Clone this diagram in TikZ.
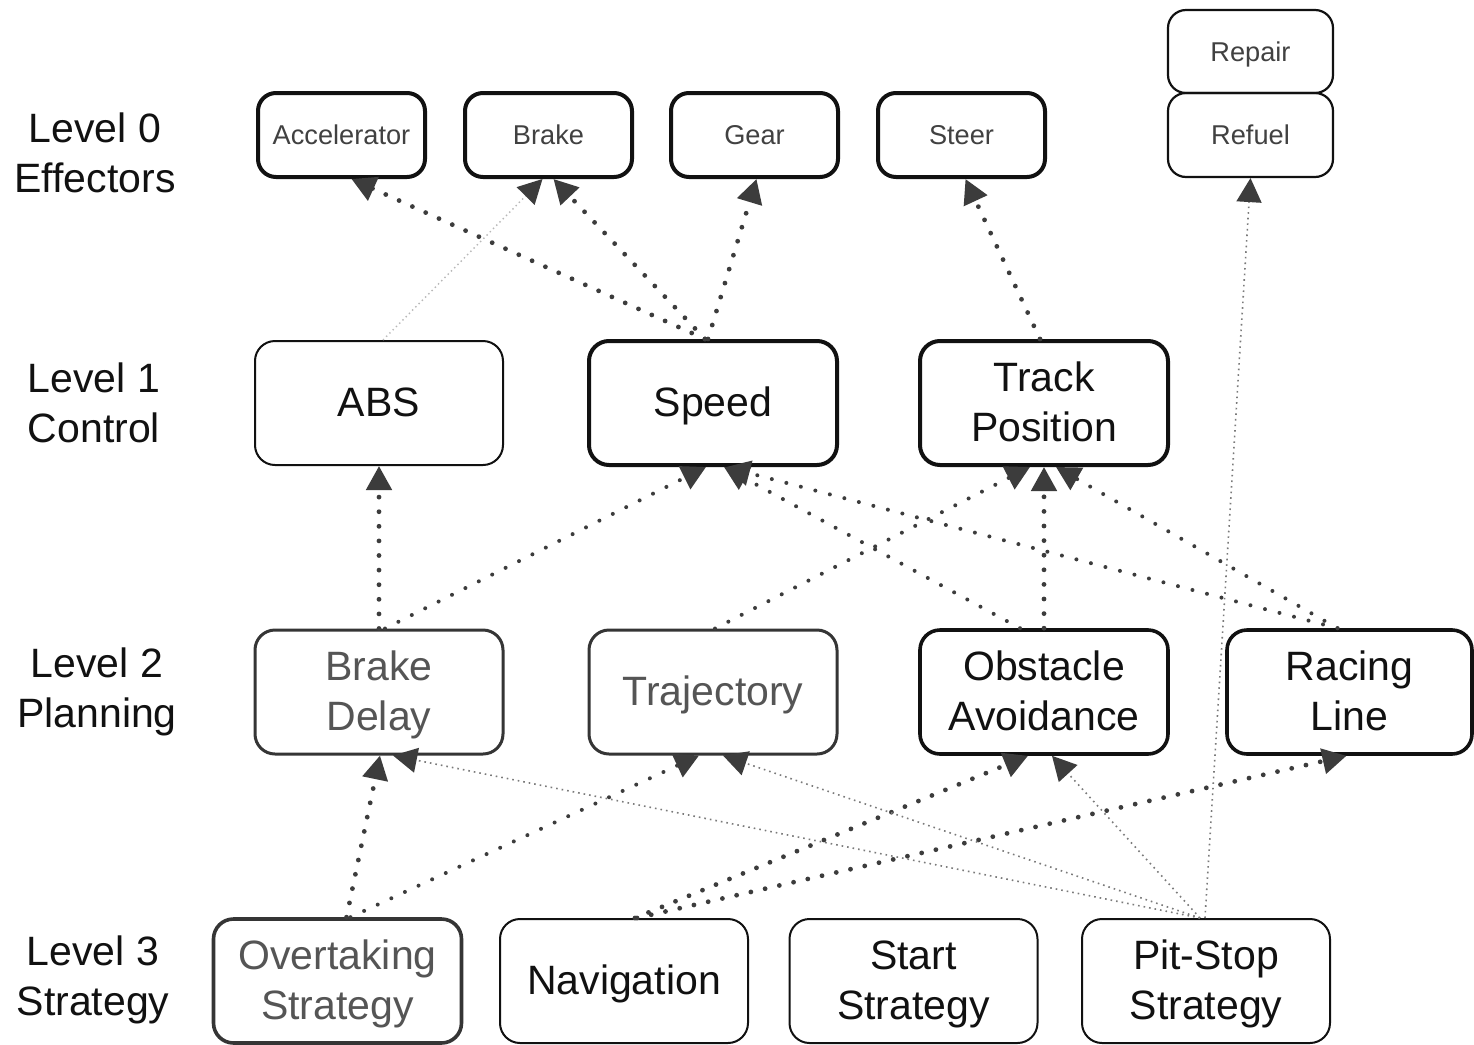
\documentclass[tikz,border=0pt]{standalone}
\usepackage{fontspec}
\setmainfont{Liberation Sans}
\usetikzlibrary{arrows.meta,calc}
\definecolor{ink}{HTML}{111111}
\definecolor{edge}{HTML}{3C3C3C}
\definecolor{soft}{HTML}{555555}
\definecolor{thin}{HTML}{7A7A7A}
\tikzset{
  box/.style={draw=ink, rectangle, rounded corners=10pt, align=center, inner sep=0pt,
    minimum width=124pt, minimum height=62pt, font=\fontsize{20.5}{25}\selectfont, text=ink,
    text depth=1.2pt},
  effbox/.style={box, minimum width=83.5pt, minimum height=42pt, rounded corners=9pt,
    font=\fontsize{13.6}{16}\selectfont, text=ink!80, text depth=0pt},
  lvl/.style={align=center, font=\fontsize{20.5}{25}\selectfont, text=ink},
  tip/.style={-{Triangle[length=12pt,width=12.5pt,color=edge,fill=edge]}},
  bigdot/.style={tip, draw=edge, line width=2.4pt, line cap=round, dash pattern=on 0pt off 7.3pt},
  middot/.style={tip, draw=edge, line width=2pt, line cap=round, dash pattern=on 0pt off 7.5pt},
  thindot/.style={tip, draw=thin, line width=0.8pt, dash pattern=on 0.8pt off 2pt},
  faintdot/.style={tip, draw=ink!30, line width=0.7pt, dash pattern=on 0.7pt off 1.6pt},
}
\begin{document}
\begin{tikzpicture}[x=0.5pt,y=-0.5pt]
\useasboundingbox (0,0) rectangle (1474,1045);
\fill[white] (0,0) rectangle (1474,1045);

% level labels
\node[lvl] (l0) at (95,153) {Level 0\\Effectors};
\node[lvl] (l1) at (94,403) {Level 1\\Control};
\node[lvl] (l2) at (97,692) {Level 2\\Planning};
\node[lvl] (l3) at (93,980) {Level 3\\Strategy};

% level 0
\node[effbox, line width=2pt] (acc) at (341.5,135) {Accelerator};
\node[effbox, line width=2pt] (brake) at (548.5,135) {Brake};
\node[effbox, line width=2pt] (gear) at (754.5,135) {Gear};
\node[effbox, line width=2pt] (steer) at (961.5,135) {Steer};
\node[effbox, line width=1.1pt, minimum width=82.5pt] (refuel) at (1250.5,135) {Refuel};
\node[effbox, line width=1.1pt, minimum width=82.5pt, minimum height=41.5pt] (repair) at (1250.5,51.5) {Repair};

% level 1
\node[box, line width=1pt] (abs) at (379,403) {ABS};
\node[box, line width=2pt] (speed) at (713,403) {Speed};
\node[box, line width=2pt] (track) at (1044,403) {Track\\Position};

% level 2
\node[box, line width=1.5pt, draw=ink!85, text=soft] (bd) at (379,692) {Brake\\Delay};
\node[box, line width=1.5pt, draw=ink!85, text=soft] (traj) at (713,692) {Trajectory};
\node[box, line width=1.8pt] (oa) at (1044,692) {Obstacle\\Avoidance};
\node[box, line width=1.8pt, minimum width=122.5pt] (rl) at (1349.5,692) {Racing\\Line};

% level 3
\node[box, line width=1.8pt, draw=ink!85, text=soft] (ot) at (337.5,981) {Overtaking\\Strategy};
\node[box, line width=1pt] (nav) at (624,981) {Navigation};
\node[box, line width=1pt] (start) at (913.5,981) {Start\\Strategy};
\node[box, line width=1pt] (pit) at (1206,981) {Pit-Stop\\Strategy};

% level 1 -> level 0
\draw[faintdot] ($(abs.north)+(4,0)$) -- ($(brake.south)+(-6,0)$);
\draw[bigdot] ($(speed.north)+(-8,0)$) -- ($(acc.south)+(10,0)$);
\draw[bigdot] ($(speed.north)+(-8,0)$) -- ($(brake.south)+(5,0)$);
\draw[bigdot] ($(speed.north)+(-5,0)$) -- ($(gear.south)+(2,0)$);
\draw[bigdot] ($(track.north)+(-4,0)$) -- ($(steer.south)+(4,0)$);
\draw[thindot] ($(pit.north)+(-1,0)$) -- (refuel.south);

% level 2 -> level 1
\draw[bigdot] (bd.north) -- (abs.south);
\draw[middot] ($(bd.north)+(6,0)$) -- ($(speed.south)+(-7,0)$);
\draw[middot] ($(oa.north)+(-24,0)$) -- ($(speed.south)+(11,0)$);
\draw[middot] ($(rl.north)+(-12,0)$) -- ($(speed.south)+(13,0)$);
\draw[middot] ($(traj.north)+(2,0)$) -- ($(track.south)+(-14,0)$);
\draw[bigdot] (oa.north) -- (track.south);
\draw[middot] ($(rl.north)+(-12,0)$) -- ($(track.south)+(12,0)$);

% level 3 -> level 2
\draw[bigdot] ($(ot.north)+(9,0)$) -- ($(bd.south)+(1,0)$);
\draw[middot] ($(ot.north)+(13,0)$) -- ($(traj.south)+(-14,0)$);
\draw[bigdot] ($(nav.north)+(11,0)$) -- ($(oa.south)+(-16,0)$);
\draw[bigdot] ($(nav.north)+(13,0)$) -- ($(rl.south)+(-3,0)$);
\draw[thindot] ($(pit.north)+(-6,0)$) -- ($(bd.south)+(14,0)$);
\draw[thindot] ($(pit.north)+(-6,0)$) -- ($(traj.south)+(10,0)$);
\draw[thindot] ($(pit.north)+(-6,0)$) -- ($(oa.south)+(8,0)$);
\end{tikzpicture}
\end{document}
